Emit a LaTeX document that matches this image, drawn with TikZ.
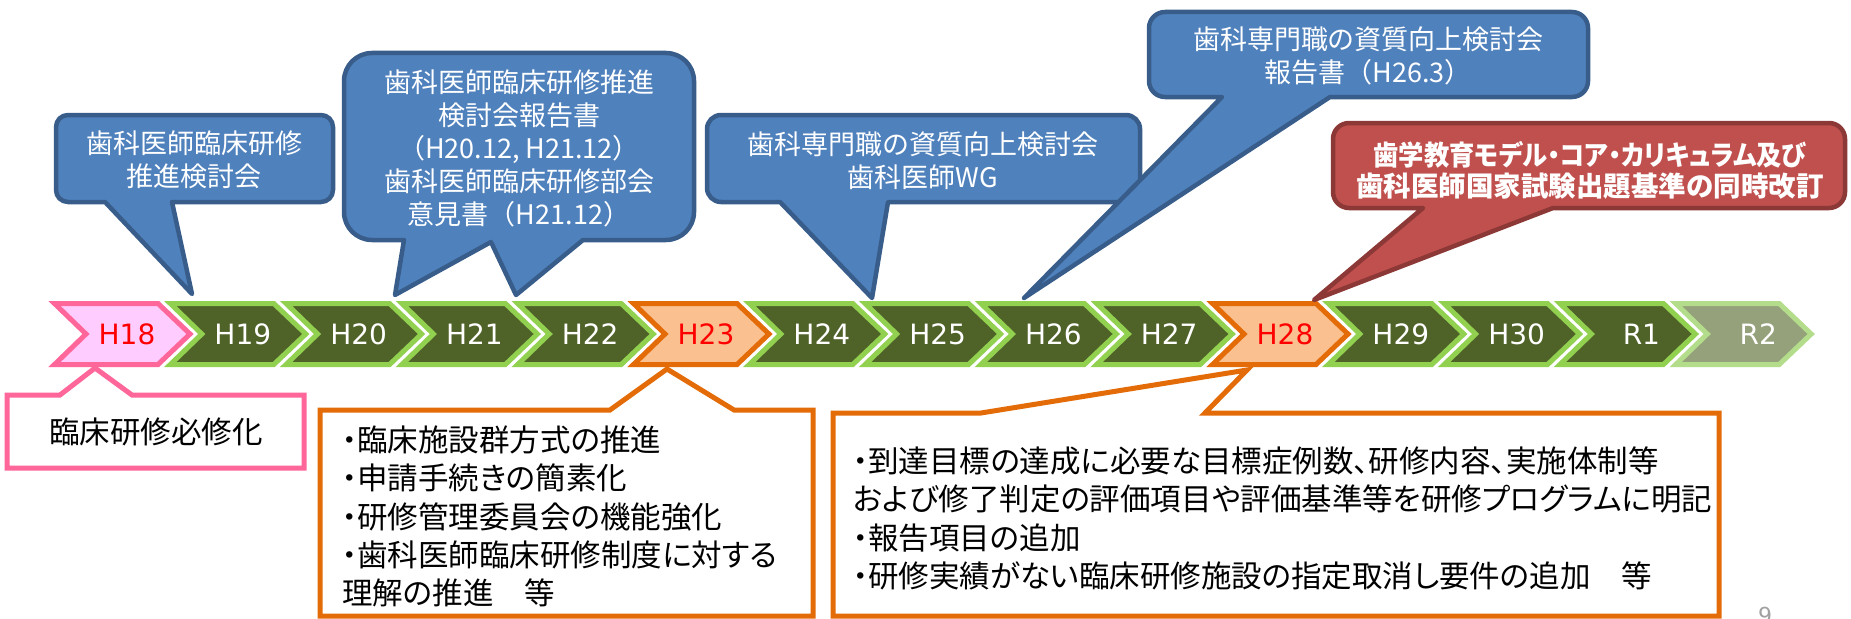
\documentclass[tikz,border=0pt]{standalone}
\usepackage{fontspec}
\newfontfamily\jp[RawFeature=+palt]{Noto Sans CJK JP}
\newfontfamily\jpw{Noto Sans CJK JP}
\newfontfamily\latf{DejaVu Sans}
\definecolor{pinkfill}{HTML}{FFCCFF}
\definecolor{pinkline}{HTML}{FF6699}
\definecolor{gfill}{HTML}{4F6228}
\definecolor{gline}{HTML}{92D050}
\definecolor{ofill}{HTML}{FAC090}
\definecolor{oline}{HTML}{E36C09}
\definecolor{rtwofill}{HTML}{95A17B}
\definecolor{rtwoline}{HTML}{B3DC8B}
\definecolor{bfill}{HTML}{4F81BD}
\definecolor{bline}{HTML}{385D8A}
\definecolor{rfill}{HTML}{C0504D}
\definecolor{rline}{HTML}{8C3836}
\definecolor{pgray}{HTML}{A0A0A0}
\begin{document}
\begin{tikzpicture}[x=1pt,y=-1pt,
  chevpath/.style={line width=5pt,line join=miter},
  chevtext/.style={font=\latf\fontsize{28}{30}\selectfont,inner sep=0pt},
  bluecall/.style={fill=bfill,draw=bline,line width=4.5pt,line join=round},
  redcall/.style={fill=rfill,draw=rline,line width=4.5pt,line join=round},
  calltext/.style={font=\jp\fontsize{27}{33}\selectfont,text=white,align=center,inner sep=0pt},
  redtext/.style={font=\jp\bfseries\fontsize{27.5}{31}\selectfont,text=white,align=center,inner sep=0pt},
  pinkcall/.style={fill=white,draw=pinkline,line width=5pt,line join=miter},
  orangecall/.style={fill=white,draw=oline,line width=5pt,line join=miter},
  bottext/.style={font=\jp\fontsize{30.5}{38.3}\selectfont,text=black,align=left,inner sep=0pt},
]
\useasboundingbox (0,0) rectangle (1851,618);
\fill[white] (0,0) rectangle (1851,618);

% timeline chevrons
\foreach \lab/\f/\l/\t/\dx [count=\i from 0] in {
  H18/pinkfill/pinkline/red/75, H19/gfill/gline/white/75, H20/gfill/gline/white/75,
  H21/gfill/gline/white/75, H22/gfill/gline/white/75, H23/ofill/oline/red/75,
  H24/gfill/gline/white/75, H25/gfill/gline/white/75, H26/gfill/gline/white/75,
  H27/gfill/gline/white/75, H28/ofill/oline/red/75, H29/gfill/gline/white/75,
  H30/gfill/gline/white/75, R1/gfill/gline/white/84, R2/rtwofill/rtwoline/white/85}{
  \pgfmathsetmacro{\xo}{52+115.8*\i}
  \draw[chevpath,fill=\f,draw=\l] (\xo+2.5,303.5) -- (\xo+106,303.5) -- (\xo+138,334)
     -- (\xo+106,364.5) -- (\xo+2.5,364.5) -- (\xo+34,334) -- cycle;
  \node[chevtext,text=\t] (c\i) at (\xo+\dx,334) {\lab};
}

% blue callout 1
\draw[bluecall] (192,294) -- (105,202) [rounded corners=12pt] -- (56,202) -- (56,115) -- (333,115) -- (333,202) [sharp corners] -- (172,202) -- cycle;
\node[calltext] (b1) at (194,160) {歯科医師臨床研修\\推進検討会};

% blue callout 2 (two tails)
\draw[bluecall] (395,295) -- (404,240) [rounded corners=28pt] -- (344,240) -- (344,53) -- (694,53) -- (694,240) [sharp corners] -- (583,240) -- (516,295) -- (491,242) -- cycle;
\node[calltext] (b2) at (519,148.5) {歯科医師臨床研修推進\\検討会報告書\\{\jpw（H20.12, H21.12）}\\歯科医師臨床研修部会\\{\jpw 意見書（H21.12）}};

% blue callout 3
\draw[bluecall] (872,298) -- (780,202) [rounded corners=14pt] -- (707,202) -- (707,115) -- (1140,115) -- (1140,202) [sharp corners] -- (888,202) -- cycle;
\node[calltext] (b3) at (923,161) {歯科専門職の資質向上検討会\\歯科医師WG};

% blue callout 4
\draw[bluecall] (1024,298) -- (1222,97) [rounded corners=16pt] -- (1149,97) -- (1149,12) -- (1588,12) -- (1588,97) [sharp corners] -- (1330,97) -- cycle;
\node[calltext] (b4) at (1368,56) {歯科専門職の資質向上検討会\\{\jpw 報告書（H26.3）}};

% red callout
\draw[redcall] (1314,300) -- (1423,208) [rounded corners=16pt] -- (1333,208) -- (1333,123) -- (1845,123) -- (1845,208) [sharp corners] -- (1553,208) -- cycle;
\node[redtext] (rd) at (1590,170) {\scalebox{0.92}[1]{歯学教育モデル・コア・カリキュラム及び}\\歯科医師国家試験出題基準の同時改訂};

% pink callout
\draw[pinkcall] (95,368) -- (132,395) -- (304,395) -- (304,468) -- (7,468) -- (7,395) -- (60,395) -- cycle;
\node[bottext] (pk) at (156,432) {臨床研修必修化};

% orange callout 1
\draw[orangecall] (667,369) -- (734,410) -- (813,410) -- (813,616) -- (320,616) -- (320,410) -- (610,410) -- cycle;
\node[bottext,anchor=west] (o1) at (342,516.5) {・臨床施設群方式の推進\\・申請手続きの簡素化\\・研修管理委員会の機能強化\\・歯科医師臨床研修制度に対する\\理解の推進　等};

% orange callout 2
\draw[orangecall] (1247,370) -- (1205,413) -- (1719,413) -- (1719,616) -- (833,616) -- (833,413) -- (981,413) -- cycle;
\node[bottext,anchor=west] (o2) at (853,518.5) {・到達目標の達成に必要な目標症例数、研修内容、実施体制等\\および修了判定の評価項目や評価基準等を研修プログラムに明記\\・報告項目の追加\\・研修実績がない臨床研修施設の指定取消し要件の追加　等};

% page number
\node[font=\latf\fontsize{22}{24}\selectfont,text=pgray,anchor=base,inner sep=0pt] (pg) at (1765,623) {9};
\end{tikzpicture}
\end{document}
